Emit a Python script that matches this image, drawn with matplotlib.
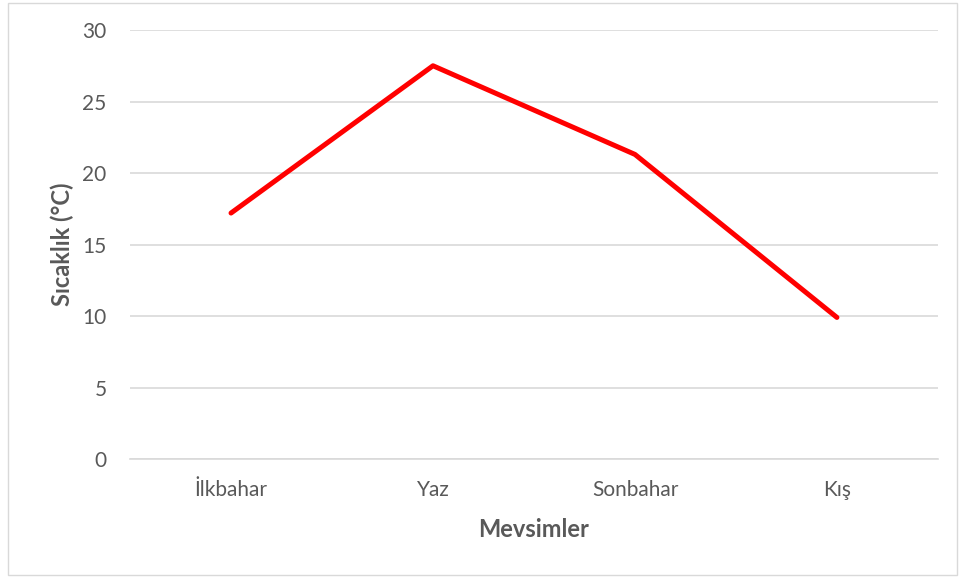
import matplotlib.pyplot as plt
from matplotlib.patches import Rectangle

seasons = ['İlkbahar', 'Yaz', 'Sonbahar', 'Kış']
temps = [17.2, 27.5, 21.3, 9.9]
y_ticks = [0, 5, 10, 15, 20, 25, 30]

plt.rcParams['font.family'] = ['Lato', 'DejaVu Sans']
text_color = '#595959'

fig = plt.figure(figsize=(9.59, 5.77), dpi=100)
ax = fig.add_axes([0.1356, 0.2045, 0.8424, 0.7435])

ax.plot(range(len(seasons)), temps, color='#ff0000', linewidth=3.6,
        solid_capstyle='round', solid_joinstyle='round', zorder=3)

ax.set_xlim(-0.5, len(seasons) - 0.5)
ax.set_ylim(0, 30)
ax.set_yticks(y_ticks)
ax.set_xticks(range(len(seasons)))
ax.set_xticklabels(seasons)
ax.yaxis.grid(True, color='#d9d9d9', linewidth=1.2)
ax.set_axisbelow(True)
for s in ['top', 'right', 'left']:
    ax.spines[s].set_visible(False)
ax.spines['bottom'].set_color('#d9d9d9')
ax.spines['bottom'].set_linewidth(1.2)
ax.tick_params(axis='both', length=0, labelsize=15, colors=text_color)
ax.tick_params(axis='x', pad=15)
ax.tick_params(axis='y', pad=17)

ax.set_xlabel('Mevsimler', fontsize=17, fontweight='bold', color=text_color, labelpad=13)
ax.set_ylabel('Sıcaklık (°C)', fontsize=17, fontweight='bold', color=text_color, labelpad=6)

# chart frame
fig.patches.append(Rectangle((8 / 959, 2 / 577), 949 / 959, 572 / 577,
                             transform=fig.transFigure, fill=False,
                             edgecolor='#d9d9d9', linewidth=1))

fig.savefig('out.png', dpi=100)
